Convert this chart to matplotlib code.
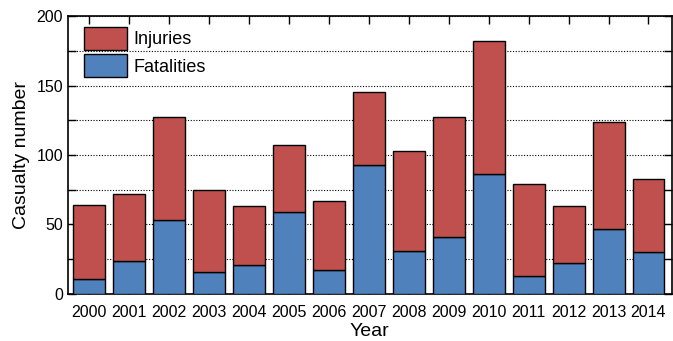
import numpy as np
import matplotlib.pyplot as plt
from matplotlib.ticker import MultipleLocator

plt.rcParams['font.family'] = ['Liberation Sans', 'DejaVu Sans']

years = ['2000', '2001', '2002', '2003', '2004', '2005', '2006', '2007',
         '2008', '2009', '2010', '2011', '2012', '2013', '2014']
fatalities = [11, 24, 53, 16, 21, 59, 17, 93, 31, 41, 86, 13, 22, 47, 30]
totals = [64, 72, 127, 75, 63, 107, 67, 145, 103, 127, 182, 79, 63, 124, 83]
injuries = [t - f for t, f in zip(totals, fatalities)]

x = np.arange(len(years))

fig = plt.figure(figsize=(6.73, 3.41), dpi=100)
ax = fig.add_axes([0.101, 0.138, 0.897, 0.815])

ax.yaxis.grid(True, which='both', linestyle=(0, (1, 1.5)), color='black', linewidth=0.8)
ax.set_axisbelow(True)

ax.bar(x, fatalities, width=0.8, color='#4F81BD', edgecolor='black', linewidth=1.0, label='Fatalities', zorder=3)
ax.bar(x, injuries, width=0.8, bottom=fatalities, color='#C0504D', edgecolor='black', linewidth=1.0, label='Injuries', zorder=3)

ax.set_xlim(-0.53, 14.58)
ax.set_ylim(0, 200)
ax.set_xticks(x)
ax.set_xticklabels(years)
ax.yaxis.set_major_locator(MultipleLocator(50))
ax.yaxis.set_minor_locator(MultipleLocator(25))
ax.tick_params(axis='both', which='both', direction='in', top=True, right=True, labelsize=11.5)
ax.tick_params(axis='both', which='major', length=6, width=1)
ax.tick_params(axis='y', which='minor', length=6, width=1)
ax.tick_params(axis='x', pad=8)
for s in ax.spines.values():
    s.set_linewidth(1.2)

ax.set_xlabel('Year', fontsize=14, labelpad=2)
ax.set_ylabel('Casualty number', fontsize=14, labelpad=5)

h, l = ax.get_legend_handles_labels()
ax.legend(h[::-1], l[::-1], loc='upper left', frameon=False, fontsize=13,
          handlelength=2.4, handleheight=1.55, handletextpad=0.35, labelspacing=0.25,
          borderaxespad=0.0, borderpad=0.0, bbox_to_anchor=(0.026, 0.96))

fig.savefig('out.png', dpi=100)
